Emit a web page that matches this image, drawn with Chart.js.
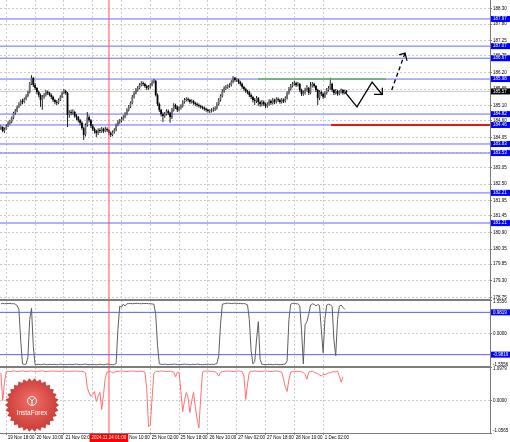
<!DOCTYPE html>
<html>
<head>
<meta charset="utf-8">
<script src="https://cdn.jsdelivr.net/npm/chart.js@4.4.1/dist/chart.umd.min.js"></script>
<style>
  html, body { margin: 0; padding: 0; background: #fff; }
  canvas { display: block; }
</style>
</head>
<body>
<canvas id="grafico" width="510" height="442"></canvas>
<script>
// candles H1, one value per bar (bar 0 = left edge)
const aberturas = [
  184.33, 184.39, 184.26, 184.33, 184.43, 184.53, 184.56, 184.69, 184.86, 184.92,
  185.06, 185.15, 185.25, 185.22, 185.32, 185.42, 185.55, 185.82, 186.02, 185.78,
  185.68, 185.55, 185.45, 185.29, 185.39, 185.45, 185.55, 185.52, 185.45, 185.39,
  185.29, 185.22, 185.19, 185.29, 185.39, 185.52, 185.58, 185.52, 184.79, 184.89,
  184.86, 184.89, 184.76, 184.72, 184.62, 184.53, 184.36, 184.13, 184.46, 184.72,
  184.62, 184.43, 184.33, 184.26, 184.19, 184.29, 184.26, 184.33, 184.26, 184.33,
  184.29, 184.19, 184.13, 184.23, 184.29, 184.46, 184.56, 184.59, 184.66, 184.72,
  184.82, 184.96, 185.06, 185.19, 185.39, 185.52, 185.62, 185.68, 185.78, 185.85,
  185.82, 185.75, 185.68, 185.72, 185.78, 185.88, 185.92, 185.45, 185.15, 184.96,
  184.82, 184.76, 184.82, 184.92, 184.86, 184.72, 184.96, 185.12, 185.06, 184.96,
  185.02, 185.09, 185.22, 185.29, 185.32, 185.29, 185.22, 185.25, 185.19, 185.15,
  185.12, 185.09, 185.06, 185.02, 184.99, 184.96, 184.92, 184.92, 184.96, 184.99,
  185.02, 185.15, 185.29, 185.42, 185.58, 185.68, 185.72, 185.75, 185.78, 185.88,
  186.02, 185.95, 185.95, 185.88, 185.82, 185.72, 185.65, 185.58, 185.55, 185.45,
  185.39, 185.29, 185.25, 185.35, 185.22, 185.15, 185.22, 185.15, 185.09, 185.15,
  185.25, 185.19, 185.29, 185.22, 185.32, 185.29, 185.22, 185.29, 185.25, 185.35,
  185.52, 185.65, 185.75, 185.82, 185.85, 185.78, 185.82, 185.62, 185.49, 185.52,
  185.62, 185.68, 185.52, 185.75, 185.82, 185.75, 185.62, 185.35, 185.55, 185.49,
  185.39, 185.52, 185.62, 185.68, 185.82, 185.62, 185.52, 185.58, 185.49, 185.55,
  185.62, 185.52, 185.58
];
const maximas = [
  184.45, 184.42, 184.38, 184.48, 184.58, 184.63, 184.74, 184.90, 184.99, 185.10,
  185.21, 185.30, 185.33, 185.37, 185.48, 185.60, 185.88, 186.11, 186.05, 185.85,
  185.72, 185.60, 185.50, 185.45, 185.52, 185.62, 185.60, 185.56, 185.50, 185.43,
  185.33, 185.28, 185.34, 185.44, 185.57, 185.65, 185.62, 185.55, 184.95, 184.96,
  184.98, 184.93, 184.82, 184.76, 184.66, 184.58, 184.40, 184.52, 184.89, 184.78,
  184.66, 184.48, 184.38, 184.30, 184.35, 184.35, 184.39, 184.37, 184.40, 184.38,
  184.33, 184.24, 184.28, 184.35, 184.51, 184.62, 184.66, 184.72, 184.78, 184.88,
  185.01, 185.12, 185.24, 185.45, 185.58, 185.68, 185.75, 185.84, 185.91, 185.90,
  185.86, 185.79, 185.78, 185.84, 185.94, 185.98, 185.95, 185.50, 185.20, 185.00,
  184.88, 184.89, 184.98, 184.97, 184.90, 185.02, 185.18, 185.16, 185.10, 185.08,
  185.15, 185.28, 185.35, 185.38, 185.37, 185.33, 185.31, 185.29, 185.23, 185.20,
  185.17, 185.13, 185.10, 185.07, 185.04, 185.00, 184.98, 185.01, 185.05, 185.08,
  185.21, 185.35, 185.48, 185.64, 185.74, 185.78, 185.81, 185.84, 185.94, 186.08,
  186.05, 186.01, 185.99, 185.92, 185.86, 185.76, 185.69, 185.63, 185.59, 185.50,
  185.43, 185.35, 185.42, 185.39, 185.27, 185.29, 185.27, 185.20, 185.21, 185.31,
  185.30, 185.35, 185.33, 185.38, 185.37, 185.33, 185.35, 185.34, 185.41, 185.58,
  185.72, 185.82, 185.88, 185.92, 185.89, 185.88, 185.85, 185.66, 185.60, 185.69,
  185.78, 185.72, 185.88, 185.88, 185.86, 185.78, 185.66, 185.61, 185.60, 185.53,
  185.58, 185.68, 185.75, 186.02, 185.86, 185.66, 185.65, 185.62, 185.61, 185.67,
  185.65, 185.63, 185.62
];
const minimas = [
  184.29, 184.22, 184.20, 184.30, 184.39, 184.47, 184.52, 184.65, 184.80, 184.88,
  185.01, 185.10, 185.15, 185.18, 185.28, 185.38, 185.50, 185.78, 185.72, 185.62,
  185.48, 185.38, 185.06, 184.96, 185.33, 185.40, 185.45, 185.40, 185.32, 185.22,
  185.15, 185.12, 185.15, 185.25, 185.35, 185.48, 185.46, 184.39, 184.70, 184.78,
  184.80, 184.70, 184.62, 184.55, 184.45, 184.30, 183.96, 184.08, 184.40, 184.55,
  184.36, 184.26, 184.18, 184.06, 184.13, 184.19, 184.20, 184.19, 184.22, 184.23,
  184.12, 184.06, 184.09, 184.18, 184.25, 184.42, 184.50, 184.54, 184.61, 184.68,
  184.78, 184.91, 185.02, 185.15, 185.34, 185.47, 185.57, 185.64, 185.73, 185.75,
  185.69, 185.62, 185.63, 185.67, 185.74, 185.83, 185.40, 185.09, 184.89, 184.74,
  184.56, 184.70, 184.77, 184.79, 184.53, 184.66, 184.91, 184.99, 184.89, 184.91,
  184.97, 185.04, 185.17, 185.24, 185.23, 185.16, 185.17, 185.13, 185.09, 185.06,
  185.03, 185.00, 184.97, 184.93, 184.90, 184.87, 184.86, 184.87, 184.90, 184.92,
  184.96, 185.10, 185.24, 185.37, 185.53, 185.62, 185.66, 185.69, 185.73, 185.84,
  185.89, 185.88, 185.82, 185.76, 185.66, 185.59, 185.52, 185.48, 185.39, 185.32,
  185.20, 185.12, 185.19, 185.10, 185.06, 185.08, 185.09, 185.02, 185.03, 185.10,
  185.12, 185.14, 185.15, 185.17, 185.22, 185.16, 185.17, 185.19, 185.20, 185.30,
  185.47, 185.60, 185.70, 185.76, 185.72, 185.73, 185.55, 185.42, 185.43, 185.47,
  185.57, 185.45, 185.48, 185.70, 185.69, 185.55, 185.12, 185.29, 185.42, 185.32,
  185.35, 185.47, 185.57, 185.63, 185.55, 185.45, 185.47, 185.43, 185.44, 185.50,
  185.46, 185.48, 185.52
];
const fechamentos = [
  184.39, 184.26, 184.33, 184.43, 184.53, 184.56, 184.69, 184.86, 184.92, 185.06,
  185.15, 185.25, 185.22, 185.32, 185.42, 185.55, 185.82, 186.02, 185.78, 185.68,
  185.55, 185.45, 185.29, 185.39, 185.45, 185.55, 185.52, 185.45, 185.39, 185.29,
  185.22, 185.19, 185.29, 185.39, 185.52, 185.58, 185.52, 184.79, 184.89, 184.86,
  184.89, 184.76, 184.72, 184.62, 184.53, 184.36, 184.13, 184.46, 184.72, 184.62,
  184.43, 184.33, 184.26, 184.19, 184.29, 184.26, 184.33, 184.26, 184.33, 184.29,
  184.19, 184.13, 184.23, 184.29, 184.46, 184.56, 184.59, 184.66, 184.72, 184.82,
  184.96, 185.06, 185.19, 185.39, 185.52, 185.62, 185.68, 185.78, 185.85, 185.82,
  185.75, 185.68, 185.72, 185.78, 185.88, 185.92, 185.45, 185.15, 184.96, 184.82,
  184.76, 184.82, 184.92, 184.86, 184.72, 184.96, 185.12, 185.06, 184.96, 185.02,
  185.09, 185.22, 185.29, 185.32, 185.29, 185.22, 185.25, 185.19, 185.15, 185.12,
  185.09, 185.06, 185.02, 184.99, 184.96, 184.92, 184.92, 184.96, 184.99, 185.02,
  185.15, 185.29, 185.42, 185.58, 185.68, 185.72, 185.75, 185.78, 185.88, 186.02,
  185.95, 185.95, 185.88, 185.82, 185.72, 185.65, 185.58, 185.55, 185.45, 185.39,
  185.29, 185.25, 185.35, 185.22, 185.15, 185.22, 185.15, 185.09, 185.15, 185.25,
  185.19, 185.29, 185.22, 185.32, 185.29, 185.22, 185.29, 185.25, 185.35, 185.52,
  185.65, 185.75, 185.82, 185.85, 185.78, 185.82, 185.62, 185.49, 185.52, 185.62,
  185.68, 185.52, 185.75, 185.82, 185.75, 185.62, 185.35, 185.55, 185.49, 185.39,
  185.52, 185.62, 185.68, 185.82, 185.62, 185.52, 185.58, 185.49, 185.55, 185.62,
  185.52, 185.58, 185.57
];

// gray oscillator (first sub window)
const oscCinza = [
  1.38, 1.40, 1.38, 1.40, 1.39, 1.40, 1.38, 1.39, 1.36, 1.30,
  1.12, -0.31, -1.41, -1.44, -1.42, -1.10, 0.65, 1.17, -0.60, -1.45,
  -1.44, -1.43, -1.45, -1.44, -1.42, -1.44, -1.45, -1.43, -1.44, -1.44,
  -1.43, -1.45, -1.44, -1.42, -1.43, -1.44, -1.45, -1.44, -1.43, -1.44,
  -1.45, -1.43, -1.42, -1.44, -1.45, -1.44, -1.43, -1.42, -1.44, -1.45,
  -1.44, -1.43, -1.44, -1.45, -1.44, -1.43, -1.44, -1.45, -1.44, -1.42,
  -1.43, -1.44, -1.45, -1.44, -1.40, 0.17, 1.27, 1.22, 1.36, 1.28,
  1.38, 1.39, 1.40, 1.38, 1.39, 1.40, 1.40, 1.39, 1.38, 1.40,
  1.39, 1.40, 1.38, 1.39, 1.37, 1.36, 0.88, -0.55, -1.41, -1.43,
  -1.44, -1.42, -1.44, -1.45, -1.43, -1.44, -1.42, -1.43, -1.44, -1.45,
  -1.44, -1.43, -1.42, -1.44, -1.43, -1.45, -1.44, -1.43, -1.44, -1.42,
  -1.43, -1.44, -1.45, -1.44, -1.43, -1.42, -1.44, -1.43, -1.44, -1.42,
  -1.40, -1.03, 0.41, 1.36, 1.38, 1.40, 1.41, 1.40, 1.39, 1.40,
  1.41, 1.40, 1.39, 1.40, 1.38, 1.39, 1.37, 1.33, 0.65, -0.79,
  -1.41, -1.30, -0.30, 0.55, -1.20, -1.43, -1.44, -1.45, -1.44, -1.43,
  -1.44, -1.45, -1.44, -1.43, -1.44, -1.45, -1.44, -1.43, -1.42, -1.27,
  0.65, 1.36, 1.40, 1.40, 1.38, 1.38, 1.30, 0.17, -1.41, 0.41,
  0.55, 0.89, 1.32, 1.38, 1.35, 1.28, 1.35, 1.30, 0.17, -0.89,
  0.65, 1.32, 1.36, 1.34, 1.25, -0.31, -1.03, 0.65, 1.27, 1.32,
  1.22, 1.12, null
];
const oscCinzaNiveis = [0.9819, -0.9819];
const oscCinzaFaixa = [-1.5556, 1.5556];

// red oscillator (second sub window)
const oscVermelho = [
  0.90, 0.00, 0.60, 0.95, 0.96, 0.95, 0.96, 0.97, 0.96, 0.95,
  0.96, 0.96, 0.97, 0.96, 0.95, 0.96, 0.96, 0.97, 0.96, 0.96,
  0.95, 0.96, 0.96, 0.97, 0.96, 0.95, 0.96, 0.96, 0.96, 0.97,
  0.96, 0.96, 0.95, 0.96, 0.96, 0.97, 0.96, 0.96, 0.95, 0.96,
  0.96, 0.97, 0.96, 0.96, 0.95, 0.96, 0.94, 0.90, 0.43, 0.25,
  0.14, 0.20, 0.30, -0.03, 0.15, 0.27, -0.29, 0.20, 0.75, 0.93,
  0.94, 0.96, 0.90, 0.92, 0.95, 0.96, 0.96, 0.97, 0.96, 0.96,
  0.95, 0.96, 0.96, 0.97, 0.96, 0.96, 0.95, 0.96, 0.96, 0.95,
  0.93, 0.40, -0.85, -0.80, 0.10, 0.90, 0.95, 0.96, 0.96, 0.97,
  0.96, 0.96, 0.95, 0.96, 0.96, 0.95, 0.93, 0.78, 0.93, 0.90,
  0.30, -0.36, 0.00, 0.27, 0.10, -0.39, 0.00, 0.27, -0.20, -0.60,
  -0.89, 0.10, 0.93, 0.96, 0.96, 0.97, 0.96, 0.95, 0.96, 0.94,
  0.90, 0.80, 0.92, 0.95, 0.96, 0.96, 0.97, 0.96, 0.96, 0.95,
  0.96, 0.96, 0.97, 0.96, 0.95, 0.80, 0.04, 0.55, 0.93, 0.96,
  0.96, 0.97, 0.96, 0.96, 0.95, 0.96, 0.96, 0.97, 0.96, 0.96,
  0.95, 0.96, 0.96, 0.97, 0.96, 0.95, 0.93, 0.70, 0.45, 0.30,
  0.70, 0.93, 0.95, 0.96, 0.95, 0.96, 0.95, 0.94, 0.92, 0.85,
  0.70, 0.93, 0.95, 0.96, 0.93, 0.90, 0.88, 0.84, 0.80, 0.86,
  0.84, 0.88, 0.90, 0.92, 0.93, 0.95, 0.94, 0.96, 0.80, 0.60,
  0.78, null, null
];
const oscVermelhoFaixa = [-1.0565, 1.0979];

// price axis
const precoAtual = 185.57;
const precoTicks = [188.30, 187.80, 187.25, 186.75, 186.20, 185.65, 185.10, 184.60, 184.05,
  183.55, 183.05, 182.50, 181.95, 181.45, 180.90, 180.35, 179.85, 179.30, 178.75];
const niveis = [187.97, 187.07, 186.67, 185.98, 184.82, 184.46, 183.83, 183.53, 182.21];
const niveisFortes = [181.21];

// time axis (bar index of each label)
const horaIndices = [3, 19, 35, 51, 67, 83, 99, 115, 131, 147, 163, 179];
const horaTextos = ['19 Nov 18:00', '20 Nov 10:00', '21 Nov 02:00', '21 Nov 18:00', '22 Nov 10:00',
  '25 Nov 02:00', '25 Nov 18:00', '26 Nov 10:00', '27 Nov 02:00', '27 Nov 18:00', '28 Nov 10:00', '1 Dec 02:00'];
const marcaIndice = 60;
const marcaTexto = '2024.11.24 01:00';

// drawings on the price window (bar index, price)
const linhaVerde = { x: [142.8, 213.9], y: [185.98, 185.98] };
const linhaVermelha = { x: [183.4, 271.7], y: [184.46, 184.46] };
const zigueX = [191.2, 197.8, 206.2, 211.9];
const zigueY = [185.55, 185.06, 185.88, 185.46];
const setaX = [207.3, 211.9, 211.9];
const setaY = [185.47, 185.47, 185.69];
const tracejadoX = [217.1, 224.5];
const tracejadoY = [185.62, 186.84];
const pontaX = [221.2, 224.5, 225.6];
const pontaY = [186.78, 186.84, 186.58];

const xMin = -0.5;
const xMax = 271.7;
const yMin = 178.664;
const yMax = 188.598;

const fonte = '"Liberation Sans", Arial, sans-serif';
const tamanho = 4.5;
Chart.defaults.font.family = fonte;
Chart.defaults.font.size = tamanho;
Chart.defaults.color = '#000';

const pontos = (xs, ys) => xs.map((x, i) => ({ x: x, y: ys[i] }));
const serie = arr => arr.map((v, i) => ({ x: i, y: v }));

function linha(pts, cor, largura, eixo, extra) {
  return Object.assign({
    type: 'line', data: pts, borderColor: cor, borderWidth: largura,
    pointRadius: 0, tension: 0, fill: false, yAxisID: eixo, xAxisID: 'x', spanGaps: false
  }, extra || {});
}

const sobe = i => fechamentos[i] >= aberturas[i];

const datasets = [];

// arrows and drawings on top
datasets.push(linha(pontos(pontaX, pontaY), '#000', 1.2, 'y'));
datasets.push(linha(pontos(tracejadoX, tracejadoY), '#000', 1.3, 'y', { borderDash: [4, 3] }));
datasets.push(linha(pontos(setaX, setaY), '#000', 1.2, 'y'));
datasets.push(linha(pontos(zigueX, zigueY), '#000', 1.3, 'y'));
datasets.push(linha(pontos(linhaVermelha.x, linhaVermelha.y), '#e8141a', 2, 'y'));
datasets.push(linha(pontos(linhaVerde.x, linhaVerde.y), '#5cb85c', 1.5, 'y'));

// candle bodies and wicks
datasets.push({
  type: 'bar', xAxisID: 'x', yAxisID: 'y',
  data: aberturas.map((o, i) => ({ x: i, y: [o, fechamentos[i]] })),
  backgroundColor: c => sobe(c.dataIndex) ? '#6e6e6e' : '#000',
  barThickness: 1.8, grouped: false, inflateAmount: 0, minBarLength: 0.8
});
datasets.push({
  type: 'bar', xAxisID: 'x', yAxisID: 'y',
  data: minimas.map((l, i) => ({ x: i, y: [l, maximas[i]] })),
  backgroundColor: '#1e1e1e',
  barThickness: 1, grouped: false, inflateAmount: 0
});

// oscillators
datasets.push(linha(serie(oscCinza), '#5e5e5e', 1, 'y2'));
datasets.push(linha(serie(oscVermelho), '#ff7070', 1, 'y3'));

// horizontal levels
oscCinzaNiveis.forEach(v => datasets.push(linha(pontos([xMin, xMax], [v, v]), '#5a5aff', 1, 'y2')));
niveis.forEach(v => datasets.push(linha(pontos([xMin, xMax], [v, v]), '#6a6aff', 1, 'y')));
niveisFortes.forEach(v => datasets.push(linha(pontos([xMin, xMax], [v, v]), '#b0b0ff', 2, 'y')));
datasets.push(linha(pontos([xMin, xMax], [precoAtual, precoAtual]), '#c8c8c8', 1, 'y'));

function eixoDireito(id, min, max, peso, ticks, decimais, grade) {
  return {
    type: 'linear', position: 'right', stack: 'janelas', stackWeight: peso,
    min: min, max: max,
    border: { display: true, color: '#7a7a7a', width: 1, dash: [2, 2] },
    grid: { color: grade, tickColor: '#7a7a7a', tickLength: 2, lineWidth: 1 },
    ticks: {
      autoSkip: false, padding: 1, crossAlign: 'near', color: '#000',
      font: { family: fonte, size: tamanho },
      callback: v => v.toFixed(decimais)
    },
    afterBuildTicks: s => { s.ticks = ticks.map(v => ({ value: v })); },
    afterFit: s => { s.width = 20; s.paddingTop = 0; s.paddingBottom = 0; }
  };
}

const grade = '#cdcdcd';
const soZero = c => (c.tick && c.tick.value === 0) ? grade : 'rgba(0,0,0,0)';

// labels of min and max of the sub windows sit inside the window, like MT4
const rotulosBorda = {
  id: 'rotulosBorda',
  beforeDraw(chart) {
    ['y2', 'y3'].forEach(id => {
      const s = chart.scales[id];
      s.getLabelItems().forEach(it => {
        const ty = it.options.translation[1];
        if (Math.abs(ty - s.top) < 0.6) it.options.textBaseline = 'top';
        else if (Math.abs(ty - s.bottom) < 0.6) it.options.textBaseline = 'bottom';
      });
    });
  }
};

function caixaPreco(chart, id, valor, fundo, texto) {
  const s = chart.scales[id];
  const ctx = chart.ctx;
  const y = s.getPixelForValue(valor);
  ctx.save();
  ctx.fillStyle = fundo;
  ctx.fillRect(s.left + 1, y - 3, 19, 6);
  ctx.fillStyle = '#fff';
  ctx.font = tamanho + 'px ' + fonte;
  ctx.textAlign = 'left';
  ctx.textBaseline = 'middle';
  ctx.fillText(texto, s.left + 3, y);
  ctx.restore();
}

function selo(ctx, cx, cy) {
  ctx.save();
  ctx.beginPath();
  const pontas = 30;
  for (let k = 0; k < pontas * 2; k++) {
    const r = k % 2 === 0 ? 27 : 24;
    const a = k * Math.PI / pontas;
    const px = cx + r * Math.cos(a);
    const py = cy + r * Math.sin(a);
    if (k === 0) ctx.moveTo(px, py); else ctx.lineTo(px, py);
  }
  ctx.closePath();
  const g = ctx.createRadialGradient(cx, cy - 6, 3, cx, cy, 27);
  g.addColorStop(0, '#ec6a62');
  g.addColorStop(1, '#cc3d3a');
  ctx.fillStyle = g;
  ctx.fill();

  ctx.strokeStyle = '#fff';
  ctx.lineWidth = 1;
  ctx.beginPath();
  ctx.arc(cx, cy - 4, 4.5, 0, Math.PI * 2);
  ctx.stroke();
  ctx.beginPath();
  ctx.moveTo(cx, cy + 0.5); ctx.lineTo(cx, cy - 4);
  ctx.moveTo(cx - 2.2, cy - 6.5); ctx.lineTo(cx, cy - 4); ctx.lineTo(cx + 2.2, cy - 6.5);
  ctx.stroke();

  ctx.fillStyle = '#fff';
  ctx.font = '6.5px ' + fonte;
  ctx.textAlign = 'center';
  ctx.textBaseline = 'middle';
  ctx.fillText('InstaForex', cx, cy + 8.5);
  ctx.restore();
}

const sobreposicao = {
  id: 'sobreposicao',
  afterDatasetsDraw(chart) {
    const ctx = chart.ctx;
    const area = chart.chartArea;
    const x = chart.scales.x;

    selo(ctx, 32, 405);

    // red time marker through every window
    const xm = x.getPixelForValue(marcaIndice);
    ctx.save();
    ctx.strokeStyle = 'rgba(255, 90, 90, 0.55)';
    ctx.lineWidth = 2;
    ctx.beginPath();
    ctx.moveTo(xm, area.top);
    ctx.lineTo(xm, area.bottom);
    ctx.stroke();

    // window separators
    ctx.strokeStyle = '#7d7d7d';
    ctx.lineWidth = 2;
    ['y2', 'y3'].forEach(id => {
      const t = chart.scales[id].top;
      ctx.beginPath();
      ctx.moveTo(area.left, t);
      ctx.lineTo(area.right, t);
      ctx.stroke();
    });

    // highlighted time on the axis
    ctx.font = tamanho + 'px ' + fonte;
    const w = ctx.measureText(marcaTexto).width + 4;
    ctx.fillStyle = '#ff0000';
    ctx.fillRect(xm - w / 2, area.bottom + 1, w, 8);
    ctx.fillStyle = '#fff';
    ctx.textAlign = 'center';
    ctx.textBaseline = 'middle';
    ctx.fillText(marcaTexto, xm, area.bottom + 5);
    ctx.restore();

    niveis.concat(niveisFortes).forEach(v => caixaPreco(chart, 'y', v, '#0000ff', v.toFixed(2)));
    caixaPreco(chart, 'y', precoAtual, '#000', precoAtual.toFixed(2));
    oscCinzaNiveis.forEach(v => caixaPreco(chart, 'y2', v, '#0000ff', v.toFixed(4)));
  }
};

const grafico = new Chart(document.getElementById('grafico'), {
  type: 'bar',
  data: { datasets: datasets },
  options: {
    responsive: false,
    devicePixelRatio: 1,
    animation: false,
    events: [],
    layout: { padding: 0 },
    plugins: { legend: { display: false }, tooltip: { enabled: false } },
    scales: {
      x: {
        type: 'linear', min: xMin, max: xMax, offset: false,
        border: { display: true, color: '#7a7a7a', dash: [2, 2] },
        grid: { color: grade, tickColor: '#7a7a7a', tickLength: 2, offset: false },
        ticks: {
          autoSkip: false, maxRotation: 0, minRotation: 0, align: 'start', labelOffset: 1.5, padding: 0,
          color: '#000', font: { family: fonte, size: tamanho },
          callback: (v, i) => horaTextos[i]
        },
        afterBuildTicks: s => { s.ticks = horaIndices.map(v => ({ value: v })); },
        afterFit: s => { s.height = 9; s.paddingLeft = 0; s.paddingRight = 0; }
      },
      y: eixoDireito('y', yMin, yMax, 300, precoTicks, 2, grade),
      y2: eixoDireito('y2', oscCinzaFaixa[0], oscCinzaFaixa[1], 67,
        [oscCinzaFaixa[1], 0, oscCinzaFaixa[0]], 4, soZero),
      y3: eixoDireito('y3', oscVermelhoFaixa[0], oscVermelhoFaixa[1], 66,
        [oscVermelhoFaixa[1], 0, oscVermelhoFaixa[0]], 4, soZero)
    }
  },
  plugins: [rotulosBorda, sobreposicao]
});
</script>
</body>
</html>
